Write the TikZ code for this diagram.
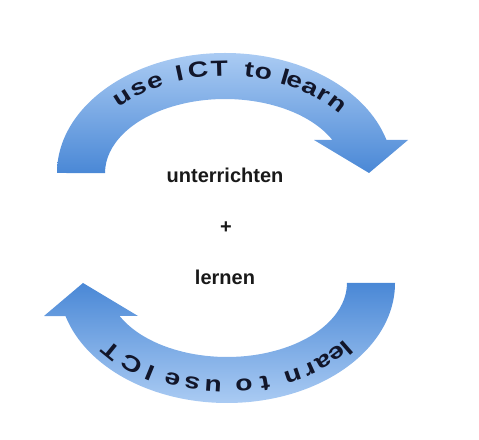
\documentclass[tikz,border=0pt]{standalone}
\usepackage{fontspec}
\setmainfont{Liberation Sans}
\definecolor{arrlight}{HTML}{AACBF3}
\definecolor{arrdark}{HTML}{4A88D6}
\definecolor{txtcol}{HTML}{12162A}
\tikzset{
  letter/.style={anchor=base, inner sep=0pt, text=txtcol,
      font=\bfseries\fontsize{22}{22}\selectfont},
  centertext/.style={text=black!90, font=\bfseries\fontsize{20}{22}\selectfont, anchor=base, inner sep=0pt},
  toparrow/.style={top color=arrlight, bottom color=arrdark, draw=none},
  botarrow/.style={top color=arrdark, bottom color=arrlight, draw=none}
}
\begin{document}
\begin{tikzpicture}[x=1pt,y=1pt]
\useasboundingbox (0,0) rectangle (479,439);
% top arrow
\path[toparrow] (57,266) arc[start angle=180,end angle=16,x radius=168,y radius=120]
  -- (408,299) -- (369,266) -- (314,299) -- (332.4,299)
  arc[start angle=26.5,end angle=180,x radius=120,y radius=74] -- cycle;
% bottom arrow
\path[botarrow] (395,156) arc[start angle=360,end angle=196,x radius=168,y radius=120]
  -- (44,123) -- (83,156) -- (138,123) -- (119.6,123)
  arc[start angle=206.5,end angle=360,x radius=120,y radius=74] -- cycle;
% text along top arrow
\foreach \t/\lt [count=\i] in {133.4/u, 125.2/s, 118.2/e, 107.8/I, 100.4/C, 92.2/T,
    80.6/t, 75.0/o, 66.35/l, 62.2/e, 55.1/a, 48.5/r, 41.2/n} {
  \pgfmathsetmacro\rot{atan2(-97*cos(\t),144*sin(\t))}
  \node[letter, rotate=\rot, xscale=1.28] (ta\i) at ({225+144*cos(\t)},{266+97*sin(\t)}) {\lt};
}
% text along bottom arrow
\foreach \t/\lt [count=\i] in {322.5/l, 317.6/e, 310.4/a, 303.9/r, 296.4/n, 284.8/t,
    276.6/o, 264.6/u, 256.4/s, 248.4/e, 238.8/I, 230.6/C, 219.6/T} {
  \pgfmathsetmacro\rot{atan2(-97*cos(\t),144*sin(\t))}
  \node[letter, rotate=\rot, xscale=1.28] (ba\i) at ({227+144*cos(\t)},{156+97*sin(\t)}) {\lt};
}
% centre texts
\node[centertext] (u) at (225,256) {unterrichten};
\node[centertext, anchor=center] (p) at (226,211) {+};
\node[centertext] (l) at (225,154) {lernen};
\end{tikzpicture}
\end{document}
